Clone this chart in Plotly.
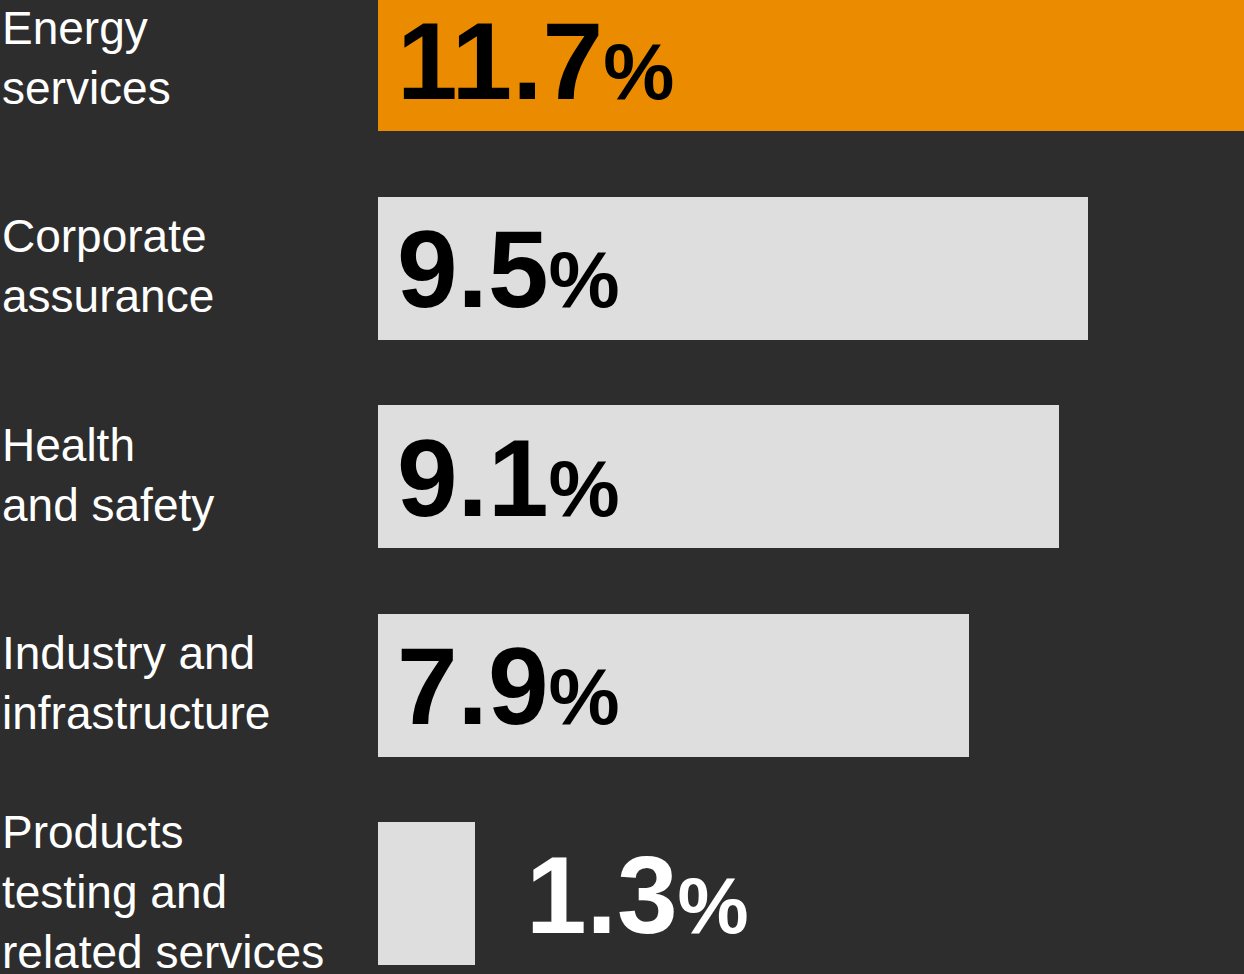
import plotly.graph_objects as go

categories = ["Energy<br>services", "Corporate<br>assurance", "Health<br>and safety",
              "Industry and<br>infrastructure", "Products<br>testing and<br>related services"]
values = [11.7, 9.5, 9.1, 7.9, 1.3]
bar_colors = ["#eb8c00", "#dedede", "#dedede", "#dedede", "#dedede"]
inside = [True, True, True, True, False]

BG = "#2d2d2d"
FONT = "Liberation Sans, Arial, Helvetica, sans-serif"

idx = list(range(len(categories)))

fig = go.Figure()
fig.add_trace(go.Bar(
    x=values, y=idx, orientation="h",
    marker=dict(color=bar_colors, line=dict(width=0)),
    width=0.686, hoverinfo="skip", showlegend=False,
))

annotations = []
for i, (cat, v, ins) in enumerate(zip(categories, values, inside)):
    annotations.append(dict(
        xref="paper", x=0, xshift=-378, xanchor="left",
        yref="y", y=i, yanchor="middle", yshift=2,
        text=cat, align="left", showarrow=False,
        font=dict(family=FONT, size=46, color="#ffffff"),
    ))
    txt = (f"<b>{v:.1f}</b><span style='font-size:80px'><b>%</b></span>")
    annotations.append(dict(
        xref="x", x=0 if ins else v, xshift=17 if ins else 49, xanchor="left",
        yref="y", y=i, yanchor="middle", yshift=-1,
        text=txt, showarrow=False,
        font=dict(family=FONT, size=109, color="#000000" if ins else "#ffffff"),
    ))

fig.update_layout(
    width=1244, height=974,
    margin=dict(l=378, r=0, t=0, b=0),
    paper_bgcolor=BG, plot_bgcolor=BG,
    xaxis=dict(range=[0, 11.58], visible=False, fixedrange=True),
    yaxis=dict(range=[4.3842, -0.2873], visible=False, fixedrange=True),
    annotations=annotations,
    bargap=0,
)

fig.write_html(
    "out.html",
    config={"displayModeBar": False},
    post_script="document.body.style.margin='0';document.body.style.background='#2d2d2d';",
)
